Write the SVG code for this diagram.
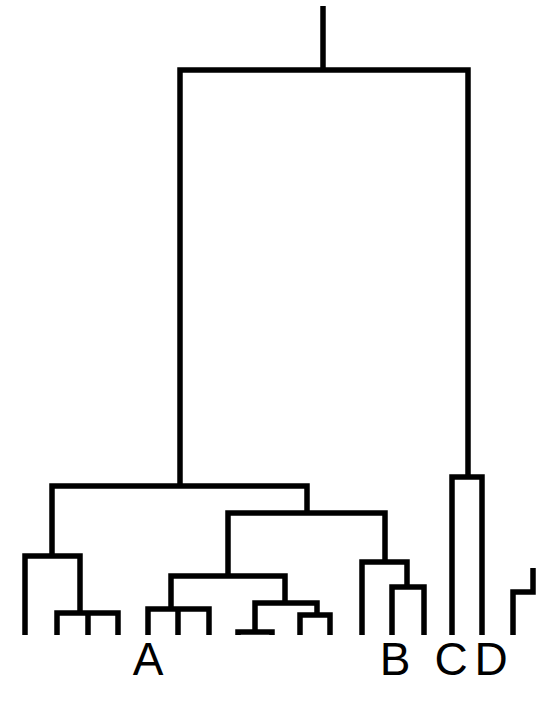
<svg xmlns="http://www.w3.org/2000/svg" width="540" height="708" viewBox="0 0 540 708">
<style>
.ln{fill:none;stroke:#000;stroke-width:5.5;stroke-linejoin:miter;stroke-linecap:butt}
.lb{font-family:"Liberation Sans",Arial,sans-serif;font-size:46px;fill:#000;text-anchor:middle}
</style>
<rect width="540" height="708" fill="#fff"/>
<g id="connectors" class="ln">
<path d="M323 6V70"/>
<path d="M180 486V70H468V477"/>
<path d="M52 556V486H307V513"/>
<path d="M25 635V556H80V613"/>
<path d="M57 635V613H118V635M88 613V635"/>
<path d="M228 576V513H385V562"/>
<path d="M171 609V576H285V603"/>
<path d="M148 635V609H209V635M178 609V635"/>
<path d="M255 632V603H317V615"/>
<path d="M238 635V632H272V635"/>
<path d="M300 635V615H330V635"/>
<path d="M362 635V562H407V587"/>
<path d="M392 635V587H424V635"/>
<path d="M452 635V477H482V635"/>
<path d="M513 635V592H533V568"/>
</g>
<g id="label-A"><text class="lb" x="148" y="675">A</text></g>
<g id="label-B"><text class="lb" x="395" y="675">B</text></g>
<g id="label-C"><text class="lb" x="451" y="675">C</text></g>
<g id="label-D"><text class="lb" x="491" y="675">D</text></g>
</svg>
